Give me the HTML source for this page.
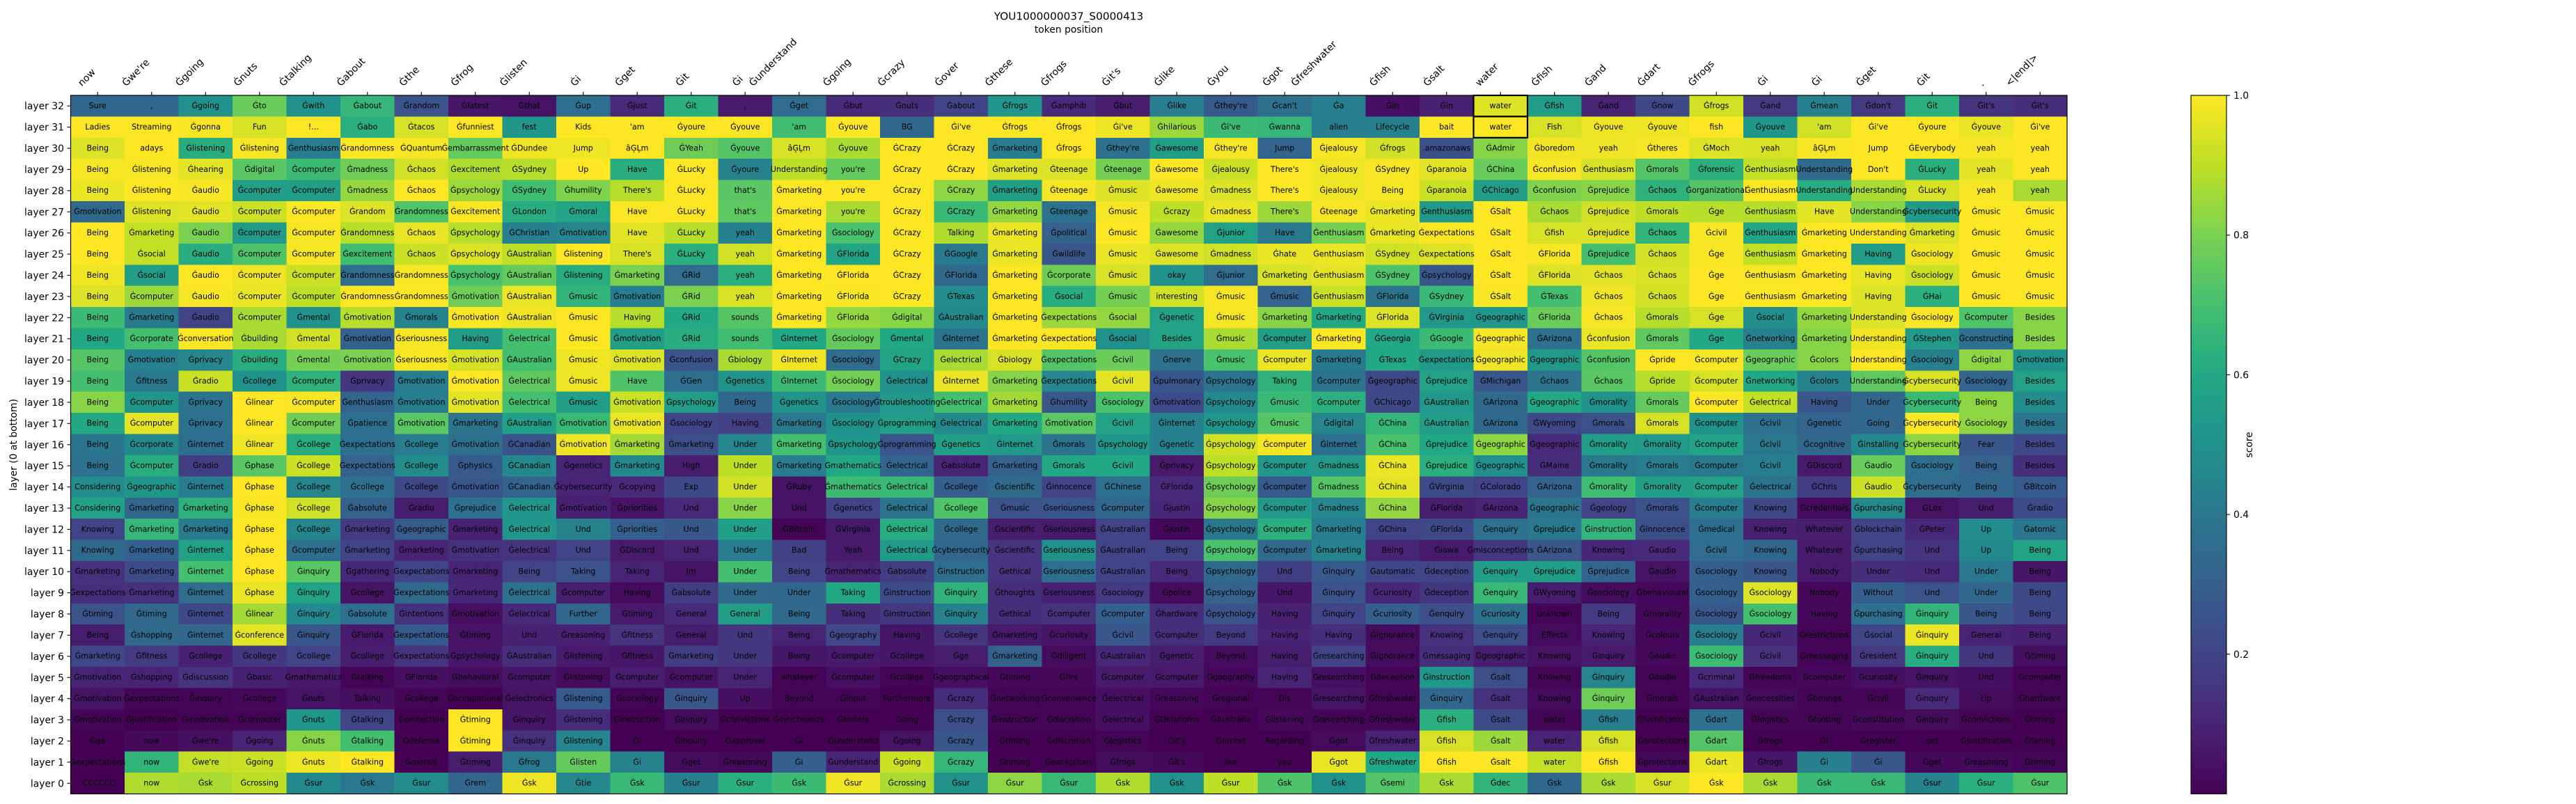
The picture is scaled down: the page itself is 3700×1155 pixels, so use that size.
<!DOCTYPE html>
<html lang="en">
<head>
<meta charset="utf-8">
<title>YOU1000000037_S0000413</title>
<style>
html,body{margin:0;padding:0;background:#fff;width:3700px;height:1155px;overflow:hidden}
svg{display:block}
text{font-family:"DejaVu Sans","Liberation Sans",sans-serif;fill:#000}
</style>
</head>
<body>
<svg id="chart" xmlns="http://www.w3.org/2000/svg" width="3700" height="1155" viewBox="0 0 3700 1155">
  <rect x="0" y="0" width="3700" height="1155" fill="#fff"/>
  <g id="cells" shape-rendering="crispEdges"></g>
  <g id="cellLabels" font-size="11.1"></g>
  <g id="highlights"></g>
  <rect x="101.5" y="137" width="2867.5" height="1003.5" fill="none" stroke="#000" stroke-width="1.2"/>
  <g id="xAxis" font-size="13.9"></g>
  <g id="yAxis" font-size="13.9"></g>
  <text x="1535" y="28.5" font-size="15.3" text-anchor="middle">YOU1000000037_S0000413</text>
  <text x="1535" y="47" font-size="13.9" text-anchor="middle">token position</text>
  <text transform="translate(24,639) rotate(-90)" font-size="13.9" text-anchor="middle">layer (0 at bottom)</text>
  <g id="colorbar"></g>
  <text transform="translate(3235,639) rotate(-90)" font-size="13.9" text-anchor="middle">score</text>
</svg>
<script>
const positionTokens = ["now","Ġwe're","Ġgoing","Ġnuts","Ġtalking","Ġabout","Ġthe","Ġfrog","Ġlisten","Ġi","Ġget","Ġit","Ġi","Ġunderstand","Ġgoing","Ġcrazy","Ġover","Ġthese","Ġfrogs","Ġit's","Ġlike","Ġyou","Ġgot","Ġfreshwater","Ġfish","Ġsalt","water","Ġfish","Ġand","Ġdart","Ġfrogs","Ġi","Ġi","Ġget","Ġit",".","<|end|>"];
const layerLabels = [32,31,30,29,28,27,26,25,24,23,22,21,20,19,18,17,16,15,14,13,12,11,10,9,8,7,6,5,4,3,2,1,0];
const colorbarTicks = [0.2,0.4,0.6,0.8,1.0];
const highlightedCells = [[32,26],[31,26]];

const cellTokens = [
"Sure , Ġgoing Ġto Ġwith Ġabout Ġrandom Ġlatest Ġthat Ġup Ġjust Ġit , Ġget Ġbut Ġnuts Ġabout Ġfrogs Ġamphib Ġbut Ġlike Ġthey're Ġcan't Ġa Ġin Ġin water Ġfish Ġand Ġnow Ġfrogs Ġand Ġmean Ġdon't Ġit Ġit's Ġit's",
"Ladies Streaming Ġgonna Fun !... Ġabo Ġtacos Ġfunniest fest Kids 'am Ġyoure Ġyouve 'am Ġyouve BG Ġi've Ġfrogs Ġfrogs Ġi've Ġhilarious Ġi've Ġwanna alien Lifecycle bait water Fish Ġyouve Ġyouve fish Ġyouve 'am Ġi've Ġyoure Ġyouve Ġi've",
"Being adays Ġlistening Ġlistening Ġenthusiasm Ġrandomness ĠQuantum Ġembarrassment ĠDundee Jump âĢĻm ĠYeah Ġyouve âĢĻm Ġyouve ĠCrazy ĠCrazy Ġmarketing Ġfrogs Ġthey're Ġawesome Ġthey're Jump Ġjealousy Ġfrogs .amazonaws ĠAdmir Ġboredom yeah Ġtheres ĠMoch yeah âĢĻm Jump ĠEverybody yeah yeah",
"Being Ġlistening Ġhearing Ġdigital Ġcomputer Ġmadness Ġchaos Ġexcitement ĠSydney Up Have ĠLucky Ġyoure Understanding you're ĠCrazy ĠCrazy Ġmarketing Ġteenage Ġteenage Ġawesome Ġjealousy There's Ġjealousy ĠSydney Ġparanoia ĠChina Ġconfusion Ġenthusiasm Ġmorals Ġforensic Ġenthusiasm Understanding Don't ĠLucky yeah yeah",
"Being Ġlistening Ġaudio Ġcomputer Ġcomputer Ġmadness Ġchaos Ġpsychology ĠSydney Ġhumility There's ĠLucky that's Ġmarketing you're ĠCrazy ĠCrazy Ġmarketing Ġteenage Ġmusic Ġawesome Ġmadness There's Ġjealousy Being Ġparanoia ĠChicago Ġconfusion Ġprejudice Ġchaos Ġorganizational Ġenthusiasm Understanding Understanding ĠLucky yeah yeah",
"Ġmotivation Ġlistening Ġaudio Ġcomputer Ġcomputer Ġrandom Ġrandomness Ġexcitement ĠLondon Ġmoral Have ĠLucky that's Ġmarketing you're ĠCrazy ĠCrazy Ġmarketing Ġteenage Ġmusic Ġcrazy Ġmadness There's Ġteenage Ġmarketing Ġenthusiasm ĠSalt Ġchaos Ġprejudice Ġmorals Ġge Ġenthusiasm Have Understanding Ġcybersecurity Ġmusic Ġmusic",
"Being Ġmarketing Ġaudio Ġcomputer Ġcomputer Ġrandomness Ġchaos Ġpsychology ĠChristian Ġmotivation Have ĠLucky yeah Ġmarketing Ġsociology ĠCrazy Talking Ġmarketing Ġpolitical Ġmusic Ġawesome Ġjunior Have Ġenthusiasm Ġmarketing Ġexpectations ĠSalt Ġfish Ġprejudice Ġchaos Ġcivil Ġenthusiasm Ġmarketing Understanding Ġmarketing Ġmusic Ġmusic",
"Being Ġsocial Ġaudio Ġcomputer Ġcomputer Ġexcitement Ġchaos Ġpsychology ĠAustralian Ġlistening There's ĠLucky yeah Ġmarketing ĠFlorida ĠCrazy ĠGoogle Ġmarketing Ġwildlife Ġmusic Ġawesome Ġmadness Ġhate Ġenthusiasm ĠSydney Ġexpectations ĠSalt ĠFlorida Ġprejudice Ġchaos Ġge Ġenthusiasm Ġmarketing Having Ġsociology Ġmusic Ġmusic",
"Being Ġsocial Ġaudio Ġcomputer Ġcomputer Ġrandomness Ġrandomness Ġpsychology ĠAustralian Ġlistening Ġmarketing ĠRid yeah Ġmarketing ĠFlorida ĠCrazy ĠFlorida Ġmarketing Ġcorporate Ġmusic okay Ġjunior Ġmarketing Ġenthusiasm ĠSydney Ġpsychology ĠSalt ĠFlorida Ġchaos Ġchaos Ġge Ġenthusiasm Ġmarketing Having Ġsociology Ġmusic Ġmusic",
"Being Ġcomputer Ġaudio Ġcomputer Ġcomputer Ġrandomness Ġrandomness Ġmotivation ĠAustralian Ġmusic Ġmotivation ĠRid yeah Ġmarketing ĠFlorida ĠCrazy ĠTexas Ġmarketing Ġsocial Ġmusic interesting Ġmusic Ġmusic Ġenthusiasm ĠFlorida ĠSydney ĠSalt ĠTexas Ġchaos Ġchaos Ġge Ġenthusiasm Ġmarketing Having ĠHai Ġmusic Ġmusic",
"Being Ġmarketing Ġaudio Ġcomputer Ġmental Ġmotivation Ġmorals Ġmotivation ĠAustralian Ġmusic Having ĠRid sounds Ġmarketing ĠFlorida Ġdigital ĠAustralian Ġmarketing Ġexpectations Ġsocial Ġgenetic Ġmusic Ġmarketing Ġmarketing ĠFlorida ĠVirginia Ġgeographic ĠFlorida Ġchaos Ġmorals Ġge Ġsocial Ġmarketing Understanding Ġsociology Ġcomputer Besides",
"Being Ġcorporate Ġconversation Ġbuilding Ġmental Ġmotivation Ġseriousness Having Ġelectrical Ġmusic Ġmotivation ĠRid sounds ĠInternet Ġsociology Ġmental ĠInternet Ġmarketing Ġexpectations Ġsocial Besides Ġmusic Ġcomputer Ġmarketing ĠGeorgia ĠGoogle Ġgeographic ĠArizona Ġconfusion Ġmorals Ġge Ġnetworking Ġmarketing Understanding ĠStephen Ġconstructing Besides",
"Being Ġmotivation Ġprivacy Ġbuilding Ġmental Ġmotivation Ġseriousness Ġmotivation ĠAustralian Ġmusic Ġmotivation Ġconfusion Ġbiology ĠInternet Ġsociology ĠCrazy Ġelectrical Ġbiology Ġexpectations Ġcivil Ġnerve Ġmusic Ġcomputer Ġmarketing ĠTexas Ġexpectations Ġgeographic Ġgeographic Ġconfusion Ġpride Ġcomputer Ġgeographic Ġcolors Understanding Ġsociology Ġdigital Ġmotivation",
"Being Ġfitness Ġradio Ġcollege Ġcomputer Ġprivacy Ġmotivation Ġmotivation Ġelectrical Ġmusic Have ĠGen Ġgenetics ĠInternet Ġsociology Ġelectrical ĠInternet Ġmarketing Ġexpectations Ġcivil Ġpulmonary Ġpsychology Taking Ġcomputer Ġgeographic Ġprejudice ĠMichigan Ġchaos Ġchaos Ġpride Ġcomputer Ġnetworking Ġcolors Understanding Ġcybersecurity Ġsociology Besides",
"Being Ġcomputer Ġprivacy Ġlinear Ġcomputer Ġenthusiasm Ġmotivation Ġmotivation Ġelectrical Ġmusic Ġmotivation Ġpsychology Being Ġgenetics Ġsociology Ġtroubleshooting Ġelectrical Ġmarketing Ġhumility Ġsociology Ġmotivation Ġpsychology Ġmusic Ġcomputer ĠChicago ĠAustralian ĠArizona Ġgeographic Ġmorality Ġmorals Ġcomputer Ġelectrical Having Under Ġcybersecurity Being Besides",
"Being Ġcomputer Ġprivacy Ġlinear Ġcomputer Ġpatience Ġmotivation Ġmarketing ĠAustralian Ġmotivation Ġmotivation Ġsociology Having Ġmarketing Ġsociology Ġprogramming Ġelectrical Ġmarketing Ġmotivation Ġcivil Ġinternet Ġpsychology Ġmusic Ġdigital ĠChina ĠAustralian ĠArizona ĠWyoming Ġmorals Ġmorals Ġcomputer Ġcivil Ġgenetic Going Ġcybersecurity Ġsociology Besides",
"Being Ġcorporate Ġinternet Ġlinear Ġcollege Ġexpectations Ġcollege Ġmotivation ĠCanadian Ġmotivation Ġmarketing Ġmarketing Under Ġmarketing Ġpsychology Ġprogramming Ġgenetics Ġinternet Ġmorals Ġpsychology Ġgenetic Ġpsychology Ġcomputer Ġinternet ĠChina Ġprejudice Ġgeographic Ġgeographic Ġmorality Ġmorality Ġcomputer Ġcivil Ġcognitive Ġinstalling Ġcybersecurity Fear Besides",
"Being Ġcomputer Ġradio Ġphase Ġcollege Ġexpectations Ġcollege Ġphysics ĠCanadian Ġgenetics Ġmarketing High Under Ġmarketing Ġmathematics Ġelectrical Ġabsolute Ġmarketing Ġmorals Ġcivil Ġprivacy Ġpsychology Ġcomputer Ġmadness ĠChina Ġprejudice Ġgeographic ĠMaine Ġmorality Ġmorals Ġcomputer Ġcivil ĠDiscord Ġaudio Ġsociology Being Besides",
"Considering Ġgeographic Ġinternet Ġphase Ġcollege Ġcollege Ġcollege Ġmotivation ĠCanadian Ġcybersecurity Ġcopying Exp Under ĠRuby Ġmathematics Ġelectrical Ġcollege Ġscientific Ġinnocence ĠChinese ĠFlorida Ġpsychology Ġcomputer Ġmadness ĠChina ĠVirginia ĠColorado ĠArizona Ġmorality Ġmorality Ġcomputer Ġelectrical ĠChris Ġaudio Ġcybersecurity Being ĠBitcoin",
"Considering Ġmarketing Ġmarketing Ġphase Ġcollege Ġabsolute Ġradio Ġprejudice Ġelectrical Ġmotivation Ġpriorities Und Under Und Ġgenetics Ġelectrical Ġcollege Ġmusic Ġseriousness Ġcomputer Ġjustin Ġpsychology Ġcomputer Ġmadness ĠChina ĠFlorida ĠArizona Ġgeographic Ġgeology Ġmorals Ġcomputer Knowing Ġcredentials Ġpurchasing ĠLex Und Ġradio",
"Knowing Ġmarketing Ġmarketing Ġphase Ġcollege Ġmarketing Ġgeographic Ġmarketing Ġelectrical Und Ġpriorities Und Under ĠBitcoin ĠVirginia Ġelectrical Ġcollege Ġscientific Ġseriousness ĠAustralian Ġjustin Ġpsychology Ġcomputer Ġmarketing ĠChina ĠFlorida Ġenquiry Ġprejudice Ġinstruction Ġinnocence Ġmedical Knowing Whatever Ġblockchain ĠPeter Up Ġatomic",
"Knowing Ġmarketing Ġinternet Ġphase Ġcomputer Ġmarketing Ġmarketing Ġmotivation Ġelectrical Und ĠDiscord Und Under Bad Yeah Ġelectrical Ġcybersecurity Ġscientific Ġseriousness ĠAustralian Being Ġpsychology Ġcomputer Ġmarketing Being Ġiowa Ġmisconceptions ĠArizona Knowing Ġaudio Ġcivil Knowing Whatever Ġpurchasing Und Up Being",
"Ġmarketing Ġmarketing Ġinternet Ġphase Ġinquiry Ġgathering Ġexpectations Ġmarketing Being Taking Taking Im Under Being Ġmathematics Ġabsolute Ġinstruction Ġethical Ġseriousness ĠAustralian Being Ġpsychology Und Ġinquiry Ġautomatic Ġdeception Ġenquiry Ġprejudice Ġprejudice Ġaudio Ġsociology Knowing Nobody Under Und Under Being",
"Ġexpectations Ġmarketing Ġinternet Ġphase Ġinquiry Ġcollege Ġexpectations Ġmarketing Ġelectrical Ġcomputer Having Ġabsolute Under Under Taking Ġinstruction Ġinquiry Ġthoughts Ġseriousness Ġsociology Ġpolice Ġpsychology Und Ġinquiry Ġcuriosity Ġdeception Ġenquiry ĠWyoming Ġsociology Ġbehavioural Ġsociology Ġsociology Nobody Without Und Under Being",
"Ġtiming Ġtiming Ġinternet Ġlinear Ġinquiry Ġabsolute Ġintentions Ġmotivation Ġelectrical Further Ġtiming General General Being Taking Ġinstruction Ġinquiry Ġethical Ġcomputer Ġcomputer Ġhardware Ġpsychology Having Ġinquiry Ġcuriosity Ġenquiry Ġcuriosity unknown Being Ġmorality Ġsociology Ġsociology Having Ġpurchasing Ġinquiry Being Being",
"Being Ġshopping Ġinternet Ġconference Ġinquiry ĠFlorida Ġexpectations Ġtiming Und Ġreasoning Ġfitness General Und Being Ġgeography Having Ġcollege Ġmarketing Ġcuriosity Ġcivil Ġcomputer Beyond Having Having Ġignorance Knowing Ġenquiry Effects Knowing Ġcolours Ġsociology Ġcivil Ġrestrictions Ġsocial Ġinquiry General Being",
"Ġmarketing Ġfitness Ġcollege Ġcollege Ġcollege Ġcollege Ġexpectations Ġpsychology ĠAustralian Ġlistening Ġfitness Ġmarketing Under Being Ġcomputer Ġcollege Ġge Ġmarketing Ġdiligent ĠAustralian Ġgenetic Beyond Having Ġresearching Ġignorance Ġmessaging Ġgeographic Knowing Ġinquiry Ġaudio Ġsociology Ġcivil Ġmessaging Ġresident Ġinquiry Und Ġtiming",
"Ġmotivation Ġshopping Ġdiscussion Ġbasic Ġmathematics Ġtalking ĠFlorida Ġbehavioral Ġcomputer Ġlistening Ġcomputer Ġcomputer Under whatever Ġcomputer Ġcollege Ġgeographical Ġtiming Ġfire Ġcomputer Ġcomputer Ġgeography Having Ġresearching Ġdeception Ġinstruction Ġsalt Knowing Ġinquiry Ġaudio Ġcriminal Ġfreedoms Ġcomputer Ġcuriosity Ġinquiry Und Ġcomputer",
"Ġmotivation Ġexpectations Ġinquiry Ġcollege Ġnuts Talking Ġcollege Ġoccupational Ġelectronics Ġlistening Ġsociology Ġinquiry Up Beyond ĠInput Furthermore Ġcrazy Ġnetworking Ġconvenience Ġelectrical Ġreasoning Ġregional Dis Ġresearching Ġfreshwater Ġinquiry Ġsalt Knowing Ġinquiry Ġmorals ĠAustralian Ġnecessities Ġtimings Ġcivil Ġinquiry Up Ġhardware",
"Ġmotivation Ġjustification Ġmotivation Ġcomputer Ġnuts Ġtalking Ġprotection Ġtiming Ġinquiry Ġlistening Ġinstruction Ġinquiry Ġconvictions Ġsynchronize Ġbeliefs Going Ġcrazy Ġinstruction Ġdiscretion Ġelectrical ĠOklahoma ĠAustralia Ġlistening Ġresearching Ġfreshwater Ġfish Ġsalt water Ġfish Ġjustification Ġdart Ġlogistics Ġfooting Ġconstitution Ġinquiry Ġconvictions Ġtiming",
"Ġge now Ġwe're Ġgoing Ġnuts Ġtalking Ġdefense Ġtiming Ġinquiry Ġlistening Ġi Ġinquiry Ġapproval Ġi Ġunderstand Ġgoing Ġcrazy Ġtiming Ġdiscretion Ġlogistics Ġit's Ġrocket Regarding Ġgot Ġfreshwater Ġfish Ġsalt water Ġfish Ġprotections Ġdart Ġfrogs Ġi Ġregister get Ġjustification Ġtiming",
"Ġexpectations now Ġwe're Ġgoing Ġnuts Ġtalking Ġmorals Ġtiming Ġfrog Ġlisten Ġi Ġget Ġreasoning Ġi Ġunderstand Ġgoing Ġcrazy Ġtiming Ġexceptions Ġfrogs Ġit's like you Ġgot Ġfreshwater Ġfish Ġsalt water Ġfish Ġprotections Ġdart Ġfrogs Ġi Ġi Ġget Ġreasoning Ġtiming",
".ĊĊĊĊĊĊ now Ġsk Ġcrossing Ġsur Ġsk Ġsur Ġrem Ġsk Ġtie Ġsk Ġsur Ġsur Ġsk Ġsur Ġcrossing Ġsur Ġsur Ġsur Ġsk Ġsk Ġsur Ġsk Ġsk Ġsemi Ġsk Ġdec Ġsk Ġsk Ġsur Ġsk Ġsk Ġsk Ġsk Ġsur Ġsur Ġsur"
].map(function(row){return row.split(" ");});

const cellScores = [
[.33,.33,.5,.77,.5,.66,.25,.06,.05,.36,.12,.63,.07,.35,.12,.13,.2,.52,.12,.08,.42,.28,.37,.42,.04,.09,.95,.55,.1,.22,.93,.17,.43,.17,.63,.15,.13],
[1,1,.99,.94,1,.63,.94,1,.52,1,1,1,1,.69,1,.33,1,1,1,.98,.85,.68,.66,.42,.43,1,1,.94,.98,.98,1,.52,.93,1,1,.97,1],
[.95,1,.62,.99,.42,1,.99,.76,.98,.98,1,.78,.73,.94,.87,1,1,.42,1,.37,.55,.99,.32,.99,.93,.24,.82,.98,.98,.99,.95,.94,.99,1,1,.99,1],
[.99,.99,.96,.74,.68,.78,.93,.88,.89,1,.62,1,.44,.9,.76,1,1,.95,.95,.79,1,.92,1,.98,.99,.96,.77,.99,.94,.73,.63,.91,.34,1,.63,.96,1],
[.97,1,.99,.55,.55,.84,1,.85,.69,.81,.89,1,.74,1,1,1,.83,.56,.99,.95,.98,.95,1,.98,.99,.92,.55,.81,.82,.64,.73,1,.62,.87,.94,.99,.87],
[.34,.95,.96,.92,1,.95,.72,1,.62,.58,1,1,.75,1,.87,1,.67,.84,.37,.99,.9,.97,.85,.99,.97,.53,1,.87,.93,.9,.89,.89,.96,.82,.54,1,1],
[1,.91,.8,.54,.99,.89,.97,.89,.43,.45,.96,.89,.43,1,.71,1,.88,.97,.31,1,.84,.57,.4,.79,.97,1,1,.94,.94,.65,.99,.59,1,1,.95,1,1],
[1,.91,.62,.72,.99,.69,.92,.95,.9,1,.94,.63,.93,1,.58,1,.41,.97,.27,.97,.95,.93,.97,.97,.93,.95,1,.99,.7,.93,.99,.91,1,.55,.98,1,1],
[.98,.55,1,.98,.92,.35,.99,.71,.76,.62,.8,.35,.63,1,1,1,.34,1,.78,.94,.5,.35,.94,.96,.72,.27,1,.95,.96,.94,1,.99,1,.97,.92,1,1],
[.95,.85,.99,.97,.9,1,1,.78,.97,.65,.42,.8,.94,1,.99,1,.48,1,.62,.79,.93,.99,.32,.92,.38,.67,.99,.7,.98,.93,1,1,1,.95,.63,1,1],
[.68,.41,.2,.87,.5,.89,.44,1,.98,1,.89,.6,.73,1,.84,.82,.47,1,.85,.84,.57,.99,.82,.6,.95,.53,.52,.77,.99,.89,.94,.49,.84,.95,1,.72,.82],
[.6,.7,1,.87,.93,.31,.99,.55,.7,1,.55,.62,.69,.6,.76,.6,.38,1,1,.5,.58,.87,.55,1,.6,.68,.99,.37,.97,.75,.6,.43,.82,.98,.54,.36,.82],
[.73,.43,.45,.62,.79,.8,.99,.94,.7,.98,.95,.25,.87,.98,.35,.58,.87,.94,.73,.77,.37,.71,.97,.41,.6,.54,.98,.53,.73,1,.99,.77,.82,1,.43,.83,.5],
[.7,.4,.92,.5,.64,.16,.42,1,.75,.98,.72,.36,.51,.68,.79,.5,.97,.82,.46,.96,.27,.38,.64,.38,.22,.57,.27,.38,.74,.89,.94,.6,.44,.75,.94,.32,.57],
[.82,.52,.38,1,.99,.32,.42,.96,.7,.55,.92,.55,.33,.51,.4,.53,.7,.86,.27,.71,.23,.47,.67,.63,.22,.53,.34,.6,.5,.76,1,.91,.27,.33,.67,.83,.48],
[.6,.96,.37,1,.78,.36,.74,.38,.56,.67,.97,.2,.19,.4,.5,.55,.47,.6,.74,.58,.43,.52,.73,.45,.66,.55,.34,.22,.25,.94,.5,.37,.32,.33,1,.83,.39],
[.39,.47,.36,.98,.62,.36,.42,.37,.26,.98,.86,.24,.46,.7,.52,.25,.56,.53,.38,.52,.43,.93,.99,.36,.71,.6,.83,.12,.55,.53,.58,.4,.33,.47,.83,.27,.22],
[.37,.62,.18,.74,.92,.31,.48,.28,.47,.1,.47,.08,.9,.42,.6,.32,.1,.31,.6,.6,.07,.9,.53,.53,.97,.63,.5,.13,.4,.42,.4,.42,.07,.77,.36,.31,.13],
[.48,.52,.42,1,.45,.37,.22,.27,.32,.1,.12,.22,.93,.05,.68,.67,.3,.34,.2,.37,.12,.78,.28,.73,.96,.23,.2,.32,.69,.56,.57,.38,.18,.92,.35,.33,.28],
[.57,.33,.64,.99,.93,.31,.08,.37,.52,.09,.05,.12,.82,.05,.2,.38,.72,.25,.27,.33,.11,.82,.53,.46,.84,.08,.1,.38,.2,.25,.42,.22,.03,.47,.05,.08,.23],
[.2,.66,.41,1,.46,.17,.29,.09,.52,.44,.3,.27,.56,.01,.07,.62,.34,.08,.07,.2,.02,.4,.63,.42,.2,.22,.37,.4,.65,.24,.36,.09,.08,.2,.11,.48,.39],
[.34,.3,.57,1,.36,.2,.1,.14,.15,.2,.07,.1,.42,.19,.07,.54,.33,.15,.5,.2,.2,.71,.34,.44,.1,.07,.16,.27,.11,.12,.35,.33,.07,.2,.15,.47,.58],
[.14,.23,.7,1,.74,.11,.2,.1,.2,.25,.1,.05,.7,.2,.1,.18,.36,.15,.36,.2,.12,.34,.18,.28,.21,.2,.55,.55,.32,.05,.3,.27,.07,.13,.12,.4,.06],
[.13,.14,.35,.97,.58,.05,.34,.11,.37,.08,.03,.18,.34,.33,.6,.23,.64,.13,.09,.17,.03,.31,.06,.25,.11,.16,.67,.08,.03,.02,.3,.95,.02,.3,.25,.33,.22],
[.25,.34,.22,.86,.47,.36,.14,.04,.12,.33,.07,.12,.55,.34,.13,.16,.44,.13,.14,.3,.13,.25,.09,.2,.3,.24,.37,.01,.17,.02,.27,.7,.02,.36,.65,.27,.21],
[.08,.34,.33,.96,.27,.07,.28,.05,.09,.09,.15,.08,.16,.1,.22,.06,.15,.07,.05,.27,.13,.17,.1,.13,.03,.14,.24,.03,.1,.02,.42,.11,.01,.21,.97,.1,.09],
[.21,.17,.09,.16,.2,.08,.15,.06,.13,.07,.06,.18,.16,.06,.07,.06,.08,.31,.03,.11,.08,.03,.08,.2,.03,.13,.08,.05,.07,.02,.68,.14,.01,.17,.62,.16,.04],
[.1,.1,.15,.09,.07,.01,.04,.03,.06,.03,.08,.05,.1,.01,.04,.01,.04,.02,.02,.07,.07,.02,.1,.04,.01,.52,.24,.01,.45,.01,.12,.01,.02,.04,.05,.04,.01],
[.05,.01,.01,.02,.05,.04,.01,0,.05,.28,.01,.27,.04,.01,.01,0,.13,.01,.01,.04,.02,.01,.01,.05,.01,.33,.14,.03,.78,.01,.05,.03,.01,.01,.12,.03,.01],
[.01,0,.01,.01,.52,.2,0,1,.06,.13,0,.03,0,0,0,0,.24,.01,.01,.04,0,0,.02,.01,.01,.63,.23,.01,.42,0,.37,.01,.01,.02,.03,.01,0],
[0,.02,.04,.1,.82,.7,0,1,.14,.45,0,0,0,0,0,.05,.27,0,0,.01,0,0,0,.03,.1,.94,.85,.1,.94,0,.73,0,0,0,0,0,0],
[0,.65,.91,.92,.98,1,0,.08,.4,.76,.44,.03,.02,.3,.1,.92,.66,0,0,.03,.02,0,0,.97,.6,1,1,.91,1,.02,.97,.06,.43,.27,.02,.02,.01],
[0,.88,.87,.9,.47,.4,.48,.33,.98,.46,.67,.43,.63,.68,.98,.87,.51,.83,.67,.88,.5,.9,.72,.5,.73,.87,.65,.33,.87,.94,1,.87,.67,.67,.44,.63,.72]
];

const NS = "http://www.w3.org/2000/svg";
const plotLeft = 101.5, plotRight = 2969, plotTop = 137, plotBottom = 1140.5;
const viridisStops = ["#440154","#482475","#414487","#355f8d","#2a788e","#21918c","#22a884","#44bf70","#7ad151","#bddf26","#fde725"];

function hexRgb(h){return [parseInt(h.slice(1,3),16),parseInt(h.slice(3,5),16),parseInt(h.slice(5,7),16)];}
function viridis(v){
  const t = Math.max(0,Math.min(1,v))*(viridisStops.length-1);
  const i = Math.min(Math.floor(t),viridisStops.length-2), f = t-i;
  const a = hexRgb(viridisStops[i]), b = hexRgb(viridisStops[i+1]);
  return "rgb("+[0,1,2].map(function(k){return Math.round(a[k]+(b[k]-a[k])*f);}).join(",")+")";
}
const colWidth = (plotRight-plotLeft)/positionTokens.length;
const rowHeight = (plotBottom-plotTop)/layerLabels.length;
function xScale(col){return plotLeft+col*colWidth;}
function yScale(rowIdx){return plotTop+rowIdx*rowHeight;}
function colorbarY(v){return plotBottom-v*(plotBottom-plotTop);}
function make(tag,attrs,parent,txt){
  const el = document.createElementNS(NS,tag);
  for(const k in attrs){el.setAttribute(k,attrs[k]);}
  if(txt!==undefined){el.textContent = txt;}
  parent.appendChild(el);
  return el;
}

const cellsG = document.getElementById("cells");
const labelsG = document.getElementById("cellLabels");
cellScores.forEach(function(row,r){
  row.forEach(function(score,c){
    const rect = make("rect",{x:xScale(c),y:yScale(r),width:colWidth+0.5,height:rowHeight+0.5,fill:viridis(score)},cellsG);
    
    
    const label = make("text",{x:xScale(c)+colWidth/2,y:yScale(r)+rowHeight/2+3.4,"text-anchor":"middle"},labelsG,cellTokens[r][c]);
    
    
  });
});

const highlightG = document.getElementById("highlights");
highlightedCells.forEach(function(h){
  const r = layerLabels.indexOf(h[0]);
  const box = make("rect",{x:xScale(h[1]),y:yScale(r),width:colWidth,height:rowHeight,fill:"none",stroke:"#000","stroke-width":2.2},highlightG);
  
  
});

const xG = document.getElementById("xAxis");
positionTokens.forEach(function(tok,c){
  const tx = xScale(c)+colWidth/2;
  const tick = make("line",{x1:tx,x2:tx,y1:plotTop,y2:plotTop-5,stroke:"#000","stroke-width":1.1},xG);
  
  
  const label = make("text",{},xG,tok);
  
  
  const w = label.getComputedTextLength();
  const k = Math.SQRT1_2, d = 3.3, bottom = 127;
  const xStart = tx-d*k-w*k, yStart = bottom-d*k;
  label.setAttribute("transform","translate("+xStart+","+yStart+") rotate(-45)");
});

const yG = document.getElementById("yAxis");
layerLabels.forEach(function(layer,r){
  const ty = yScale(r)+rowHeight/2;
  const tick = make("line",{x1:plotLeft,x2:plotLeft-5,y1:ty,y2:ty,stroke:"#000","stroke-width":1.1},yG);
  
  
  const label = make("text",{x:92,y:ty+5,"text-anchor":"end"},yG,"layer "+layer);
  
  
});

const cbG = document.getElementById("colorbar");
const cbLeft = 3147, cbRight = 3198, levels = 256;
const bandsG = make("g",{"shape-rendering":"crispEdges"},cbG);


for(let i=0;i<levels;i++){
  const top = colorbarY((i+1)/levels), bot = colorbarY(i/levels);
  make("rect",{x:cbLeft,y:top,width:cbRight-cbLeft,height:bot-top+0.5,fill:viridis((i+0.5)/levels)},bandsG);
}
const cbFrame = make("rect",{x:cbLeft,y:plotTop,width:cbRight-cbLeft,height:plotBottom-plotTop,fill:"none",stroke:"#000","stroke-width":1.1},cbG);


colorbarTicks.forEach(function(v){
  const ty = colorbarY(v);
  const tick = make("line",{x1:cbRight,x2:cbRight+5,y1:ty,y2:ty,stroke:"#000","stroke-width":1.1},cbG);
  
  
  const label = make("text",{x:3208,y:ty+5,"font-size":13.9},cbG,v.toFixed(1));
  
  
});
</script>
</body>
</html>
